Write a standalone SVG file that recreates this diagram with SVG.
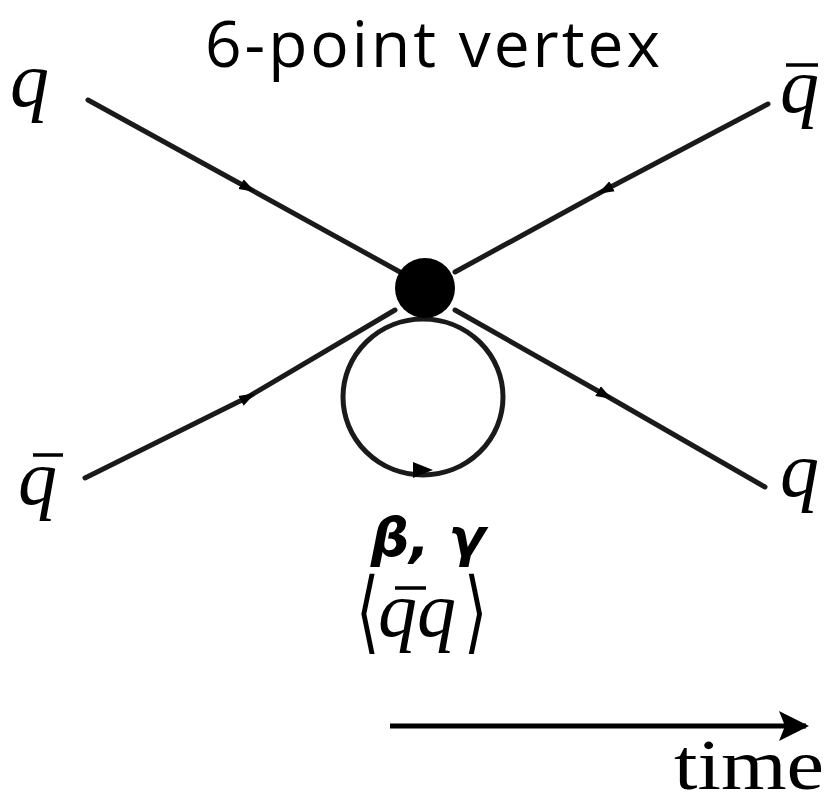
<svg xmlns="http://www.w3.org/2000/svg" width="829" height="806" viewBox="0 0 829 806">
<style>
.line{stroke:#1a1a1a;stroke-width:5;stroke-linecap:round;fill:none}
.m{font-family:"Liberation Serif","DejaVu Serif",serif;font-style:italic;fill:#000}
.r{font-family:"Liberation Serif","DejaVu Serif",serif;fill:#000}
.t{font-family:"Open Sans","Noto Sans",sans-serif;fill:#000}
.bar{stroke:#000;stroke-width:3.5}
</style>
<defs>
<marker id="ah" viewBox="0 0 10 10" refX="5" refY="5" markerWidth="16" markerHeight="16" markerUnits="userSpaceOnUse" orient="auto"><path d="M0,1.5 L10,5 L0,8.5 Z" fill="#000"/></marker>
<marker id="ta" viewBox="0 0 10 10" refX="9" refY="5" markerWidth="6" markerHeight="6" orient="auto"><path d="M0,0 L10,5 L0,10 L2,5 Z" fill="#000"/></marker>
</defs>
<text class="t" x="205" y="67" font-size="64" textLength="455" lengthAdjust="spacing">6-point vertex</text>
<g id="connectors">
<path class="line" d="M88,100 L248,188 L400,272" marker-mid="url(#ah)"/>
<path class="line" d="M768,104 L605,190 L455,272" marker-mid="url(#ah)"/>
<path class="line" d="M85,478 L248,397 L395,310" marker-mid="url(#ah)"/>
<path class="line" d="M455,310 L605,395 L765,487" marker-mid="url(#ah)"/>
<ellipse class="line" cx="423" cy="397" rx="80" ry="78" stroke-width="4"/>
<path d="M413,462 L433,470 L413,478 Z" fill="#000"/>
</g>
<g id="vertex"><circle cx="425" cy="288" r="30" fill="#000"/></g>
<g id="labels">
<text class="m" x="10" y="106" font-size="78">q</text>
<text class="m" x="780" y="112" font-size="78">q</text>
<line class="bar" x1="786" y1="65" x2="818" y2="65"/>
<text class="m" x="18" y="504" font-size="78">q</text>
<line class="bar" x1="33" y1="455" x2="63" y2="455"/>
<text class="m" x="780" y="496" font-size="78">q</text>
<text x="428" y="556" font-size="54" font-weight="bold" font-style="italic" text-anchor="middle" font-family="'DejaVu Sans',sans-serif">β, γ</text>
<text class="r" x="0" y="0" font-size="60" transform="translate(356,642) scale(1,1.5)">⟨</text>
<text class="m" x="378" y="636" font-size="78">qq</text>
<line class="bar" x1="395" y1="588" x2="426" y2="588"/>
<text class="r" x="0" y="0" font-size="60" transform="translate(464,642) scale(1,1.5)">⟩</text>
</g>
<g id="time">
<line x1="390" y1="726" x2="806" y2="726" stroke="#000" stroke-width="5" marker-end="url(#ta)"/>
<text class="r" x="674" y="789" font-size="72" textLength="150" lengthAdjust="spacingAndGlyphs">time</text>
</g>
</svg>
